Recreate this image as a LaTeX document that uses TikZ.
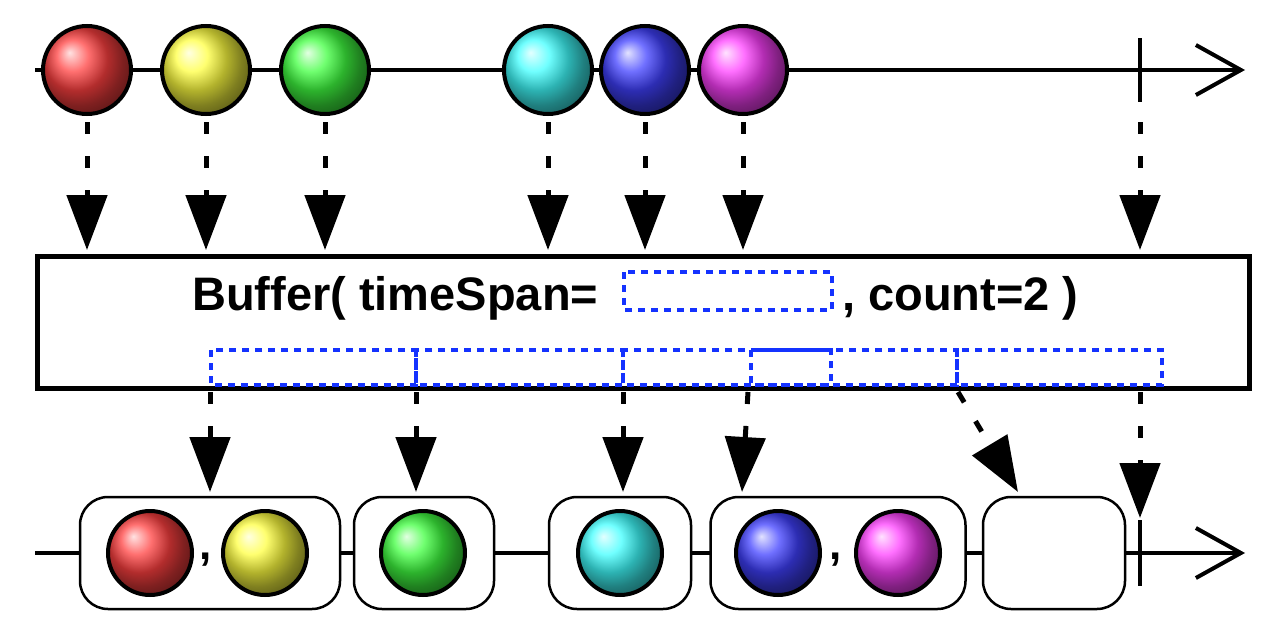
\documentclass[tikz,border=0pt]{standalone}
\usepackage{fontspec}
\setmainfont{Liberation Sans}
\usetikzlibrary{arrows.meta}
\begin{document}
\begin{tikzpicture}[x=1pt,y=-1pt,
  axis/.style={line width=4pt,-{Straight Barb[length=45pt,width=50pt,line width=4pt]}},
  tick/.style={line width=4pt},
  flow/.style={line width=5pt,dash pattern=on 12pt off 22pt,-{Triangle[length=55pt,width=40pt]},shorten >=0pt},
  win/.style={draw={rgb,255:red,20;green,50;blue,255},line width=3.5pt,dash pattern=on 7pt off 6pt},
  bufbox/.style={draw,line width=2.5pt,fill=white,rounded corners=28pt},
  big/.style={font=\bfseries\fontsize{47}{47}\selectfont},
  comma/.style={font=\bfseries\fontsize{44}{44}\selectfont}]
\useasboundingbox (0,0) rectangle (1280,640);
\newcommand{\marble}[4]{\shade[ball color=#3!75!white] (#1,#2) circle (#4);
  \draw[line width=4pt] (#1,#2) circle (#4);}
% top axis
\draw[axis] (35,70) -- (1245,70);
\draw[tick] (1140,38) -- (1140,102);
\foreach \x/\c in {87/red,206/yellow,325/green,548/cyan,645/blue,743/magenta}{
  \marble{\x}{70}{\c}{44}
  \draw[flow] (\x,122) -- (\x,250);}
\draw[flow] (1140,122) -- (1140,250);
% operator box
\node[draw,line width=5pt,minimum width=1212pt,minimum height=132pt,anchor=north west,inner sep=0pt] (op) at (35,254) {};
\node[big,anchor=base west,inner sep=0pt] (t1) at (192,310) {Buffer( timeSpan=};
\draw[win] (624,272) rectangle (832,310);
\node[big,anchor=base west,inner sep=0pt] (t2) at (842,310) {, count=2 )};
% windows
\draw[win] (211,350) rectangle (416,385);
\draw[win] (416,350) rectangle (623,385);
\draw[win] (623,350) rectangle (831,385);
\draw[win] (751,350) rectangle (957,385);
\draw[win] (957,350) rectangle (1162,385);
% output arrows
\foreach \x in {210,416,623}{\draw[flow] (\x,392) -- (\x,492);}
\draw[flow] (748,392) -- (742,492);
\draw[flow] (958,392) -- (1018,492);
\draw[flow] (1140,392) -- (1140,518);
% bottom axis
\draw[axis] (35,553) -- (1245,553);
\node[bufbox,minimum width=260pt,minimum height=112pt] (b1) at (210,553) {};
\node[bufbox,minimum width=140pt,minimum height=112pt] (b2) at (424,553) {};
\node[bufbox,minimum width=142pt,minimum height=112pt] (b3) at (620,553) {};
\node[bufbox,minimum width=255pt,minimum height=112pt] (b4) at (838,553) {};
\node[bufbox,minimum width=142pt,minimum height=112pt] (b5) at (1054,553) {};
\draw[tick] (1140,520) -- (1140,586);
\marble{150}{553}{red}{42}
\marble{265}{553}{yellow}{42}
\marble{423}{553}{green}{42}
\marble{620}{553}{cyan}{42}
\marble{778}{553}{blue}{42}
\marble{898}{553}{magenta}{42}
\node[comma] (c1) at (206,560) {,};
\node[comma] (c2) at (836,560) {,};
\end{tikzpicture}
\end{document}
